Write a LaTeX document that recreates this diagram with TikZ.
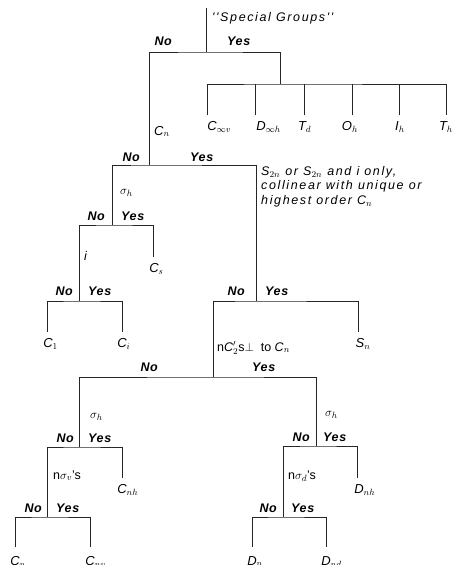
\documentclass[tikz,border=0pt]{standalone}
\usepackage{fontspec}
\setmainfont{Liberation Sans}
\newfontfamily\widesans[LetterSpace=13]{Liberation Sans}
\newfontfamily\ynsans[LetterSpace=5]{Liberation Sans}
\usetikzlibrary{calc}

\tikzset{
  branch/.style={draw=black!85, line width=0.75pt},
  yes/.style={font=\fontsize{12.5}{14}\selectfont\ynsans\bfseries\itshape, inner sep=0pt, anchor=base west},
  no/.style={font=\fontsize{12.5}{14}\selectfont\ynsans\bfseries\itshape, inner sep=0pt, anchor=base east},
  ask/.style={font=\fontsize{12.5}{14.5}\selectfont\widesans\itshape, inner sep=0pt, anchor=base west, align=left},
  sig/.style={font=\fontsize{13}{14}\selectfont, inner sep=0pt, anchor=base west},
  leaf/.style={font=\fontsize{13}{14}\selectfont\itshape, inner xsep=0pt, inner ysep=6pt, anchor=north},
}

\begin{document}
\begin{tikzpicture}[x=1pt, y=-1pt]
\useasboundingbox (0,0) rectangle (456,565);
\clip (0,0) rectangle (456,565);

% ---------- junctions ----------
\coordinate (top)   at (206,8);
\coordinate (j0)    at (206,52);
\coordinate (jSG)   at (280,84);
\coordinate (jCn)   at (149,165);
\coordinate (jSh)   at (112,225);
\coordinate (jI)    at (79,301);
\coordinate (jS2n)  at (256,301);
\coordinate (jC2)   at (213,377);
\coordinate (jShL)  at (79,447);
\coordinate (jShR)  at (316,446);
\coordinate (jSv)   at (47,517);
\coordinate (jSd)   at (283,517);

% ---------- leaf line ends ----------
\coordinate (eCinfv) at (207,115);
\coordinate (eDinfh) at (255,115);
\coordinate (eTd)    at (304,115);
\coordinate (eOh)    at (352,115);
\coordinate (eIh)    at (399,115);
\coordinate (eTh)    at (446,115);
\coordinate (eCs)    at (153,257);
\coordinate (eC1)    at (47,332);
\coordinate (eCi)    at (122,332);
\coordinate (eSn)    at (358,332);
\coordinate (eCnh)   at (122,478);
\coordinate (eDnh)   at (357,478);
\coordinate (eCn)    at (15,547);
\coordinate (eCnv)   at (90,547);
\coordinate (eDn)    at (252,547);
\coordinate (eDnd)   at (326,547);

% ---------- branches ----------
\draw[branch] (top) -- (j0);
\draw[branch] (jCn) |- (j0) -| (jSG);
\draw[branch] (eCinfv) |- (jSG) -| (eTh);
\foreach \e in {eDinfh,eTd,eOh,eIh}
  \draw[branch] (\e) -- (\e |- jSG);
\draw[branch] (jSh) |- (jCn) -| (jS2n);
\draw[branch] (jI) |- (jSh) -| (eCs);
\draw[branch] (eC1) |- (jI) -| (eCi);
\draw[branch] (jC2) |- (jS2n) -| (eSn);
\draw[branch] (jShL) |- (jC2) -| (jShR);
\draw[branch] (jSv) |- (jShL) -| (eCnh);
\draw[branch] (eCn) |- (jSv) -| (eCnv);
\draw[branch] (jSd) |- (jShR) -| (eDnh);
\draw[branch] (eDn) |- (jSd) -| (eDnd);

% ---------- questions ----------
\node[ask] (qSpecial) at (212,21) {''Special Groups''};
\node[ask, font=\fontsize{13}{14}\selectfont\itshape] (qCn) at (154,135) {C\rlap{$_n$}};
\node[sig] (qSh) at (120,194) {$\sigma_h$};
\node[ask] (qI) at (84,260) {i};
\node[ask, anchor=north west] (qS2n) at (261,166)
  {S$_{2n}$ or S$_{2n}$ and i only,\\collinear with unique or\\highest order C$_n$};
\node[ask, font=\fontsize{12.5}{14}\selectfont\itshape] (qC2) at (217,351)
  {{\upshape n}C$'_2${\upshape s}$\perp$\ \ {\upshape to} C$_n$};
\node[sig] (qShL) at (90,418) {$\sigma_h$};
\node[sig] (qShR) at (325,416) {$\sigma_h$};
\node[ask, font=\fontsize{12.5}{14}\selectfont\itshape] (qSv) at (53,479) {{\upshape n}$\sigma_v${\upshape 's}};
\node[ask, font=\fontsize{12.5}{14}\selectfont\itshape] (qSd) at (288,479) {{\upshape n}$\sigma_d${\upshape 's}};

% ---------- answers ----------
\node[no]  (n0)   at (172,45)  {No};
\node[yes] (y0)   at (227,45)  {Yes};
\node[no]  (nCn)  at (140,161) {No};
\node[yes] (yCn)  at (190,161) {Yes};
\node[no]  (nSh)  at (105,220) {No};
\node[yes] (ySh)  at (121,220) {Yes};
\node[no]  (nI)   at (73,295)  {No};
\node[yes] (yI)   at (88,295)  {Yes};
\node[no]  (nS2n) at (245,295) {No};
\node[yes] (yS2n) at (265,295) {Yes};
\node[no]  (nC2)  at (158,371) {No};
\node[yes] (yC2)  at (252,371) {Yes};
\node[no]  (nShL) at (74,442)  {No};
\node[yes] (yShL) at (88,442)  {Yes};
\node[no]  (nShR) at (310,441) {No};
\node[yes] (yShR) at (323,441) {Yes};
\node[no]  (nSv)  at (42,512)  {No};
\node[yes] (ySv)  at (56,512)  {Yes};
\node[no]  (nSd)  at (277,512) {No};
\node[yes] (ySd)  at (291,512) {Yes};

% ---------- point groups ----------
\node[leaf] (Cinfv) at ([xshift=5]eCinfv) {C\rlap{$_{\infty v}$}};
\node[leaf] (Dinfh) at ([xshift=6]eDinfh) {D\rlap{$_{\infty h}$}};
\node[leaf] (Td)    at ([xshift=-2]eTd)   {T\rlap{$_d$}};
\node[leaf] (Oh)    at ([xshift=-5]eOh)   {O\rlap{$_h$}};
\node[leaf] (Ih)    at ([xshift=-2]eIh)   {I\rlap{$_h$}};
\node[leaf] (Th)    at ([xshift=-3]eTh)   {T\rlap{$_h$}};
\node[leaf] (Cs)    at ([xshift=1]eCs)    {C\rlap{$_s$}};
\node[leaf] (C1)    at ([xshift=1]eC1)    {C\rlap{$_1$}};
\node[leaf] (Ci)    at (eCi)              {C\rlap{$_i$}};
\node[leaf] (Sn)    at ([xshift=2]eSn)    {S\rlap{$_n$}};
\node[leaf] (Cnh)   at (eCnh)             {C\rlap{$_{nh}$}};
\node[leaf] (Dnh)   at ([xshift=2]eDnh)   {D\rlap{$_{nh}$}};
% the bottom row runs off the lower edge
\node[leaf] (Cn)    at ([yshift=-3]eCn)   {C\rlap{$_n$}};
\node[leaf] (Cnv)   at ([yshift=-3]eCnv)  {C\rlap{$_{nv}$}};
\node[leaf] (Dn)    at ([yshift=-3]eDn)   {D\rlap{$_n$}};
\node[leaf] (Dnd)   at ([yshift=-3]eDnd)  {D\rlap{$_{nd}$}};
\end{tikzpicture}
\end{document}
